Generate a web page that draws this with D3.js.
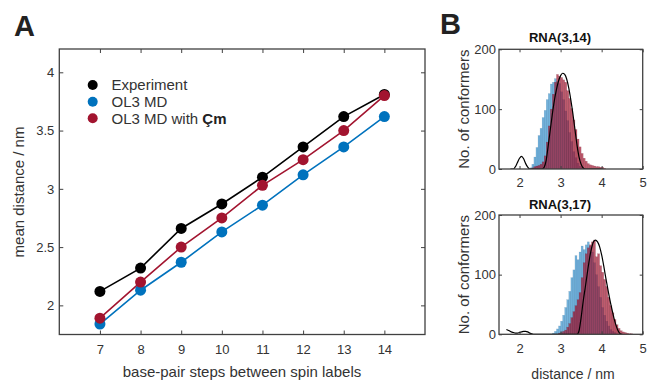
<!DOCTYPE html>
<html>
<head>
<meta charset="utf-8">
<script src="https://cdn.jsdelivr.net/npm/d3@7"></script>
<style>
  html, body { margin: 0; padding: 0; background: #fff; }
  svg { display: block; font-family: "Liberation Sans", Arial, sans-serif; }
</style>
</head>
<body>
<script>
// ---------------- Panel A data ----------------
const steps = [7, 8, 9, 10, 11, 12, 13, 14];
const experiment = [2.12, 2.32, 2.66, 2.87, 3.10, 3.36, 3.62, 3.81];
const ol3md = [1.84, 2.13, 2.37, 2.63, 2.86, 3.12, 3.36, 3.62];
const ol3mdCm = [1.89, 2.20, 2.50, 2.75, 3.03, 3.25, 3.50, 3.80];
const yTicksA = [2, 2.5, 3, 3.5, 4];
const seriesNames = ["Experiment", "OL3 MD", "OL3 MD with "];

// ---------------- Panel B data ----------------
const binWidth = 0.05;
const xTicksB = [2, 3, 4, 5];
const yTicksB = [0, 100, 200];

// RNA(3,14)
const h1BlueBins = [2.25,2.30,2.35,2.40,2.45,2.50,2.55,2.60,2.65,2.70,2.75,2.80,2.85,2.90,2.95,3.00,3.05,3.10,3.15,3.20,3.25,3.30,3.35,3.40,3.45,3.50,3.55];
const h1Blue =     [2,   8,   20,  36,  56,  68,  86,  98,  116, 126, 142, 145, 151, 146, 143, 129, 116, 97,  81,  61,  46,  29,  19,  10,  5,   3,   1];
const h1RedBins =  [2.30,2.35,2.40,2.45,2.50,2.55,2.60,2.65,2.70,2.75,2.80,2.85,2.90,2.95,3.00,3.05,3.10,3.15,3.20,3.25,3.30,3.35,3.40,3.45,3.50,3.55,3.60,3.65,3.70,3.75,3.80,3.85,3.90,3.95,4.00,4.05];
const h1Red =      [2,   4,   5,   6,   8,   12,  22,  45,  72,  100, 125, 145, 158, 155, 153, 149, 145, 131, 118, 101, 82,  66,  50,  37,  26,  18,  13,  9,   7,   6,   5,   4,   4,   3,   3,   1];
const c1X = [1.78,1.85,1.90,1.95,2.00,2.05,2.10,2.15,2.20,2.25,2.30,2.55,2.60,2.65,2.70,2.75,2.80,2.85,2.90,2.95,3.00,3.05,3.10,3.15,3.20,3.25,3.30,3.35,3.40,3.45,3.50,3.55,3.60,3.80,4.00];
const c1Y = [0,   0,   4,   11,  18,  21,  17,  9,   3,   0,   0,   0,   3,   15,  40,  66,  92,  115, 133, 147, 156, 160, 158, 150, 135, 115, 92,  66,  40,  20,  8,   2,   0,   0,   0];

// RNA(3,17)
const h2BlueBins = [2.80,2.85,2.90,2.95,3.00,3.05,3.10,3.15,3.20,3.25,3.30,3.35,3.40,3.45,3.50,3.55,3.60,3.65,3.70,3.75,3.80,3.85,3.90,3.95,4.00,4.05,4.10,4.15,4.20,4.25,4.30,4.35];
const h2Blue =     [2,   5,   9,   14,  22,  32,  45,  58,  72,  95,  108, 132, 125, 138, 148, 142, 150, 155, 148, 138, 120, 100, 80,  62,  45,  32,  22,  14,  8,   5,   3,   1];
const h2RedBins =  [2.95,3.00,3.05,3.10,3.15,3.20,3.25,3.30,3.35,3.40,3.45,3.50,3.55,3.60,3.65,3.70,3.75,3.80,3.85,3.90,3.95,4.00,4.05,4.10,4.15,4.20,4.25,4.30,4.35,4.40,4.45,4.50,4.55,4.60,4.65,4.70];
const h2Red =      [2,   3,   5,   7,   12,  18,  28,  38,  48,  58,  70,  95,  120, 135, 145, 150, 155, 158, 130, 135, 115, 104, 92,  80,  62,  48,  36,  25,  16,  10,  6,   4,   3,   2,   1,   1];
const c2X = [1.68,1.75,1.80,1.85,1.90,1.95,2.00,2.05,2.10,2.15,2.20,2.25,2.30,2.35,2.40,3.40,3.45,3.50,3.55,3.60,3.65,3.70,3.75,3.80,3.85,3.90,3.95,4.00,4.05,4.10,4.15,4.20,4.25,4.30,4.35,4.40,4.45,4.50];
const c2Y = [8,   6,   4,   3,   2,   2,   3,   4,   5,   5,   4,   2,   1,   0,   0,   0,   6,   28,  55,  78,  102, 125, 143, 155, 158, 155, 147, 133, 115, 95,  76,  58,  42,  27,  15,  6,   1,   0];

// ---------------- styling ----------------
const W = 648, H = 381;
const axisCol = "#404040", textCol = "#333333";
const cBlack = "#000000", cBlue = "#0072BD", cRed = "#A2142F";

const svg = d3.select("body").append("svg").attr("width", W).attr("height", H);

// ================= Panel A =================
const xA = d3.scaleLinear().domain([6, 15]).range([59.3, 425]);
const yA = d3.scaleLinear().domain([1.75, 4.2]).range([334.5, 49]);
const gA = svg.append("g");

function styleAxis(g, size) {
  g.select(".domain").remove();
  g.selectAll(".tick line").attr("stroke", axisCol).attr("stroke-width", 1);
  g.selectAll("text").attr("fill", textCol).style("font-size", size + "px")
    .style("font-family", '"Liberation Sans", Arial, sans-serif');
}

gA.append("g").attr("transform", `translate(0,${yA.range()[0]})`)
  .call(d3.axisBottom(xA).tickValues(steps).tickSize(-4).tickPadding(10).tickFormat(d => d))
  .call(g => styleAxis(g, 13));
gA.append("g").attr("transform", `translate(0,${yA.range()[1]})`)
  .call(d3.axisTop(xA).tickValues(steps).tickSize(-4).tickFormat(""))
  .call(g => styleAxis(g, 13));
gA.append("g").attr("transform", `translate(${xA.range()[0]},0)`)
  .call(d3.axisLeft(yA).tickValues(yTicksA).tickSize(-4).tickPadding(5).tickFormat(d => d))
  .call(g => styleAxis(g, 13));
gA.append("g").attr("transform", `translate(${xA.range()[1]},0)`)
  .call(d3.axisRight(yA).tickValues(yTicksA).tickSize(-4).tickFormat(""))
  .call(g => styleAxis(g, 13));
gA.append("rect")
  .attr("x", xA.range()[0]).attr("y", yA.range()[1])
  .attr("width", xA.range()[1] - xA.range()[0]).attr("height", yA.range()[0] - yA.range()[1])
  .attr("fill", "none").attr("stroke", axisCol).attr("stroke-width", 1.3);

const seriesA = [
  { vals: experiment, col: cBlack },
  { vals: ol3md, col: cBlue },
  { vals: ol3mdCm, col: cRed }
];
const lineA = d3.line().x(d => xA(d[0])).y(d => yA(d[1]));
[seriesA[1], seriesA[2], seriesA[0]].forEach(s => {
  const pts = steps.map((st, i) => [st, s.vals[i]]);
  gA.append("path").attr("d", lineA(pts)).attr("fill", "none")
    .attr("stroke", s.col).attr("stroke-width", 1.6);
});
[seriesA[1], seriesA[0], seriesA[2]].forEach(s => {
  gA.selectAll(null).data(steps.map((st, i) => [st, s.vals[i]])).enter()
    .append("circle").attr("cx", d => xA(d[0])).attr("cy", d => yA(d[1]))
    .attr("r", 5.5).attr("fill", s.col);
});

// legend
const legY = [85, 101.7, 118.3];
seriesA.forEach((s, i) => {
  gA.append("circle").attr("cx", 92.7).attr("cy", legY[i]).attr("r", 5).attr("fill", s.col);
  const t = gA.append("text").attr("x", 111.5).attr("y", legY[i] + 5.3)
    .attr("fill", textCol).style("font-size", "15px").text(seriesNames[i]);
  if (i === 2) t.append("tspan").style("font-weight", "bold").attr("fill", "#222").text("Çm");
});

// axis titles A
gA.append("text").attr("x", 242).attr("y", 377).attr("text-anchor", "middle")
  .attr("fill", textCol).style("font-size", "15px").text("base-pair steps between spin labels");
gA.append("text").attr("transform", "translate(23.5,192) rotate(-90)").attr("text-anchor", "middle")
  .attr("fill", textCol).style("font-size", "15px").text("mean distance / nm");
svg.append("text").attr("x", 14).attr("y", 36).attr("fill", "#222")
  .style("font-size", "29px").style("font-weight", "bold").text("A");
svg.append("text").attr("x", 440).attr("y", 34).attr("fill", "#222")
  .style("font-size", "29px").style("font-weight", "bold").text("B");

// ================= Panel B =================
const xB = d3.scaleLinear().domain([1.5, 5]).range([499, 642.7]);

function histPanel(top, bottom, title, titleY, blueBins, blue, redBins, red, cX, cY, id) {
  const y = d3.scaleLinear().domain([0, 200]).range([bottom, top]);
  const g = svg.append("g");
  g.append("clipPath").attr("id", id).append("rect")
    .attr("x", xB.range()[0]).attr("y", top).attr("width", xB.range()[1] - xB.range()[0]).attr("height", bottom - top);
  const plot = g.append("g").attr("clip-path", `url(#${id})`);

  plot.selectAll(null).data(blueBins.map((b, i) => [b, blue[i]])).enter().append("rect")
    .attr("x", d => xB(d[0])).attr("width", d => xB(d[0] + binWidth) - xB(d[0]))
    .attr("y", d => y(d[1])).attr("height", d => y(0) - y(d[1]))
    .attr("fill", cBlue).attr("fill-opacity", 0.55)
    .attr("stroke", "#1a4f7a").attr("stroke-opacity", 0.25).attr("stroke-width", 0.4);
  plot.selectAll(null).data(redBins.map((b, i) => [b, red[i]])).enter().append("rect")
    .attr("x", d => xB(d[0])).attr("width", d => xB(d[0] + binWidth) - xB(d[0]))
    .attr("y", d => y(d[1])).attr("height", d => y(0) - y(d[1]))
    .attr("fill", cRed).attr("fill-opacity", 0.7)
    .attr("stroke", "#5a0a1a").attr("stroke-opacity", 0.3).attr("stroke-width", 0.4);

  const line = d3.line().x(d => xB(d[0])).y(d => y(d[1])).curve(d3.curveMonotoneX);
  plot.append("path").attr("d", line(cX.map((v, i) => [v, cY[i]])))
    .attr("fill", "none").attr("stroke", "#000").attr("stroke-width", 1.2);

  g.append("g").attr("transform", `translate(0,${bottom})`)
    .call(d3.axisBottom(xB).tickValues(xTicksB).tickSize(-3).tickPadding(9).tickFormat(d => d))
    .call(gg => styleAxis(gg, 13));
  g.append("g").attr("transform", `translate(0,${top})`)
    .call(d3.axisTop(xB).tickValues(xTicksB).tickSize(-3).tickFormat(""))
    .call(gg => styleAxis(gg, 13));
  g.append("g").attr("transform", `translate(${xB.range()[0]},0)`)
    .call(d3.axisLeft(y).tickValues(yTicksB).tickSize(-3).tickPadding(3).tickFormat(d => d))
    .call(gg => styleAxis(gg, 13));
  g.append("g").attr("transform", `translate(${xB.range()[1]},0)`)
    .call(d3.axisRight(y).tickValues(yTicksB).tickSize(-3).tickFormat(""))
    .call(gg => styleAxis(gg, 13));
  g.append("rect").attr("x", xB.range()[0]).attr("y", top)
    .attr("width", xB.range()[1] - xB.range()[0]).attr("height", bottom - top)
    .attr("fill", "none").attr("stroke", axisCol).attr("stroke-width", 1.3);

  g.append("text").attr("x", 560).attr("y", titleY).attr("text-anchor", "middle")
    .attr("fill", "#111").style("font-size", "13px").style("font-weight", "bold")
    .text(title);
  g.append("text").attr("transform", `translate(469,${(top + bottom) / 2}) rotate(-90)`)
    .attr("text-anchor", "middle").attr("fill", textCol).style("font-size", "15px")
    .text("No. of conformers");
}

histPanel(49.3, 169, "RNA(3,14)", 42, h1BlueBins, h1Blue, h1RedBins, h1Red, c1X, c1Y, "clipTop");
histPanel(215, 334.3, "RNA(3,17)", 209, h2BlueBins, h2Blue, h2RedBins, h2Red, c2X, c2Y, "clipBot");

svg.append("text").attr("x", 573).attr("y", 379).attr("text-anchor", "middle")
  .attr("fill", textCol).style("font-size", "14px").text("distance / nm");
</script>
</body>
</html>
